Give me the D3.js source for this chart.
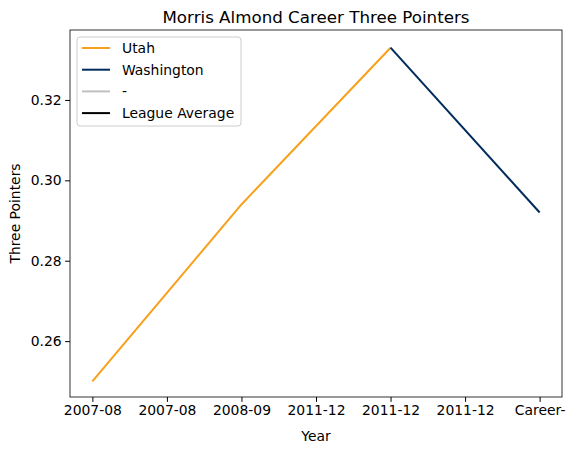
<!DOCTYPE html><html><head><script src="https://cdn.jsdelivr.net/npm/d3@7"></script>
<style>body{margin:0;background:#fff}text{font-family:"DejaVu Sans",sans-serif}</style></head><body>
<svg id="c" width="579" height="453"></svg>
<script>
const xLabels=["2007-08","2007-08","2008-09","2011-12","2011-12","2011-12","Career-"];
const utahX=[0,2,4], utahY=[0.250,0.294,0.333];
const washX=[4,6], washY=[0.333,0.292];
const yTicks=[0.26,0.28,0.30,0.32];
const legendNames=["Utah","Washington","-","League Average"];
const legendColors=["#F9A01B","#002B5C","#C0C0C0","#000000"];
const svg=d3.select("#c");
const L=70,R=562,T=30,B=397;
const x=d3.scaleLinear().domain([-0.3,6.3]).range([L,R]);
const y=d3.scaleLinear().domain([0.2461,0.3374]).range([B,T]);
const line=d3.line().x(d=>x(d[0])).y(d=>y(d[1]));
svg.append("path").attr("d",line(utahX.map((v,i)=>[v,utahY[i]]))).attr("fill","none").attr("stroke",legendColors[0]).attr("stroke-width",2);
svg.append("path").attr("d",line(washX.map((v,i)=>[v,washY[i]]))).attr("fill","none").attr("stroke",legendColors[1]).attr("stroke-width",2);
const gx=svg.append("g").attr("transform",`translate(0,${B})`).call(d3.axisBottom(x).tickValues(d3.range(7)).tickFormat(i=>xLabels[i]).tickSize(4.9).tickPadding(3.5));
const gy=svg.append("g").attr("transform",`translate(${L},0)`).call(d3.axisLeft(y).tickValues(yTicks).tickFormat(d3.format(".2f")).tickSize(4.9).tickPadding(3.5));
[gx,gy].forEach(g=>{g.select(".domain").remove();g.selectAll("text").attr("font-size",13.9).attr("fill","#000").attr("font-family","DejaVu Sans");g.selectAll("line").attr("stroke","#000");});
svg.append("rect").attr("x",L).attr("y",T).attr("width",R-L).attr("height",B-T).attr("fill","none").attr("stroke","#000").attr("stroke-width",0.8);
svg.append("text").attr("x",(L+R)/2).attr("y",23).attr("text-anchor","middle").attr("font-size",16.7).text("Morris Almond Career Three Pointers");
svg.append("text").attr("x",(L+R)/2).attr("y",441).attr("text-anchor","middle").attr("font-size",13.9).text("Year");
svg.append("text").attr("transform",`translate(20,${(T+B)/2}) rotate(-90)`).attr("text-anchor","middle").attr("font-size",13.9).text("Three Pointers");
const lg=svg.append("g");
lg.append("rect").attr("x",77).attr("y",37).attr("width",164).attr("height",89).attr("rx",3).attr("fill","#fff").attr("fill-opacity",0.8).attr("stroke","#ccc");
legendNames.forEach((n,i)=>{const yy=48+i*21.7;
lg.append("line").attr("x1",82).attr("x2",110).attr("y1",yy).attr("y2",yy).attr("stroke",legendColors[i]).attr("stroke-width",2);
lg.append("text").attr("x",122).attr("y",yy+5).attr("font-size",13.9).text(n);});
</script></body></html>
